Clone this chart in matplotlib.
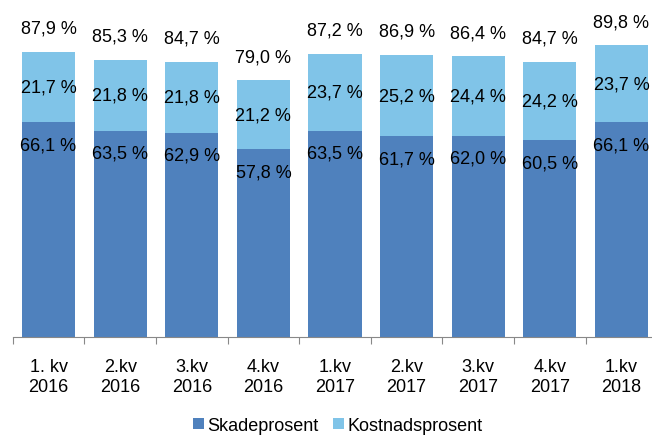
import numpy as np
import matplotlib.pyplot as plt

plt.rcParams['font.family'] = ['Liberation Sans', 'DejaVu Sans']

categories = ['1. kv\n2016', '2.kv\n2016', '3.kv\n2016', '4.kv\n2016', '1.kv\n2017',
              '2.kv\n2017', '3.kv\n2017', '4.kv\n2017', '1.kv\n2018']
skadeprosent = [66.1, 63.5, 62.9, 57.8, 63.5, 61.7, 62.0, 60.5, 66.1]
kostnadsprosent = [21.7, 21.8, 21.8, 21.2, 23.7, 25.2, 24.4, 24.2, 23.7]
totals = [87.9, 85.3, 84.7, 79.0, 87.2, 86.9, 86.4, 84.7, 89.8]

dark = '#4F81BD'
light = '#80C4E8'
fs = 13

def fmt(v):
    return f'{v:.1f}'.replace('.', ',') + ' %'

fig = plt.figure(figsize=(6.52, 4.39), dpi=100)
ax = fig.add_axes([12.7 / 652, 101 / 439, 644.6 / 652, 338 / 439])

x = np.arange(len(categories))
ax.bar(x, skadeprosent, width=0.74, color=dark, label='Skadeprosent')
ax.bar(x, kostnadsprosent, width=0.74, bottom=skadeprosent, color=light, label='Kostnadsprosent')

for i in range(len(categories)):
    s, k, t = skadeprosent[i], kostnadsprosent[i], totals[i]
    ax.text(x[i], s - 7.0, fmt(s), ha='center', va='center', fontsize=fs)
    ax.text(x[i], s + k / 2, fmt(k), ha='center', va='center', fontsize=fs)
    ax.text(x[i], s + k + 7.2, fmt(t), ha='center', va='center', fontsize=fs)

ax.set_xlim(-0.5, len(categories) - 0.5)
ax.set_ylim(0, 104)
ax.set_yticks([])
for side in ['left', 'right', 'top']:
    ax.spines[side].set_visible(False)
ax.spines['bottom'].set_color('#888888')

ax.set_xticks(np.arange(len(categories) + 1) - 0.5)
ax.set_xticklabels([])
ax.set_xticks(x, minor=True)
ax.set_xticklabels(categories, minor=True, fontsize=fs, linespacing=1.25)
ax.tick_params(axis='x', which='major', length=5, color='#888888')
ax.tick_params(axis='x', which='minor', length=0, pad=15)

fig.legend(loc='lower center', bbox_to_anchor=(0.518, -0.028), ncol=2, frameon=False,
           fontsize=fs, handlelength=0.6, handleheight=0.6, handletextpad=0.2,
           columnspacing=0.8)

fig.savefig('out.png', dpi=100)
